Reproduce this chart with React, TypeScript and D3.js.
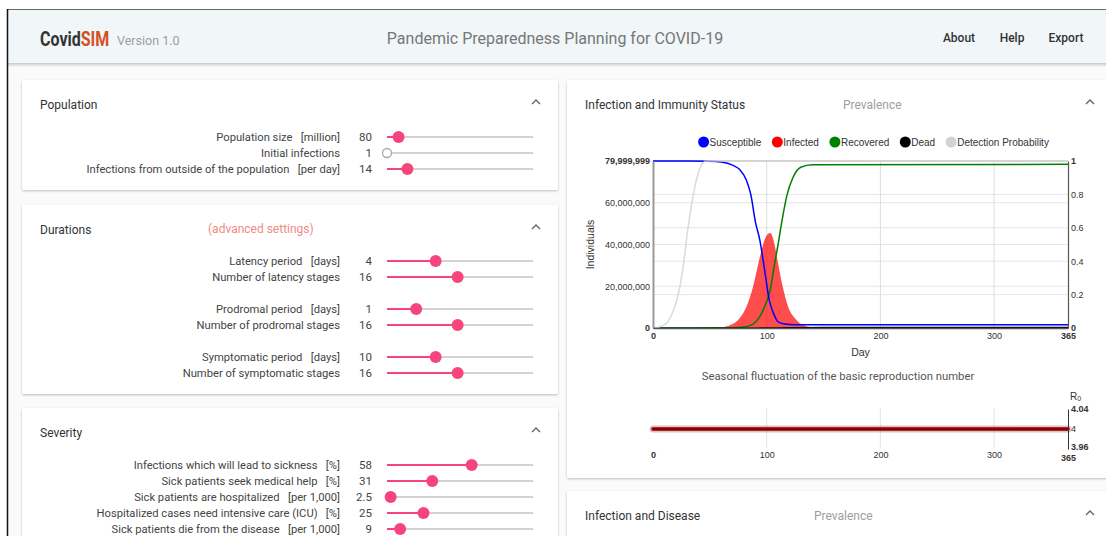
import React, { useEffect, useRef } from 'react';
import * as d3 from 'd3';

// Infection and Immunity Status (prevalence, millions of individuals)
const susceptibleDays = [0, 30, 50, 60, 70, 76, 82, 86, 90, 94, 97, 100, 102, 104, 106, 110, 115, 120, 130, 365];
const susceptibleMio = [80, 80, 79.9, 79.5, 78, 76, 71, 64, 51, 42, 32, 21, 14, 10, 7, 3, 2.0, 1.7, 1.6, 1.6];

const infectedDays = [0, 50, 60, 68, 76, 82, 88, 94, 98, 101, 103, 105, 108, 110, 114, 119, 125, 132, 141, 155, 170, 365];
const infectedMio = [0, 0.05, 0.3, 1.4, 4.6, 10, 19.8, 34, 42, 45, 45.5, 44, 37, 31, 20, 10, 4.6, 1.4, 0.3, 0.05, 0, 0];

const recoveredDays = [0, 70, 80, 88, 94, 98, 103, 107, 110, 113, 118, 123, 130, 140, 365];
const recoveredMio = [0, 0.1, 0.5, 1.9, 5.4, 10, 18, 31, 40, 50, 64, 72, 77, 78.2, 78.4];

const deadDays = [0, 90, 110, 130, 150, 365];
const deadMio = [0, 0, 0.1, 0.25, 0.3, 0.31];

// detection probability on the right axis (0..1)
const detectionDays = [0, 5, 12, 17, 21, 24, 27, 30, 33, 37, 41, 44, 47, 365];
const detectionProb = [0, 0.005, 0.03, 0.09, 0.17, 0.26, 0.39, 0.56, 0.7, 0.85, 0.95, 0.99, 1, 1];

// seasonal fluctuation of R0
const r0Days = [0, 91, 182, 273, 365];
const r0Values = [4, 4, 4, 4, 4];

const leftTicks = [0, 20000000, 40000000, 60000000, 79999999];
const rightTicks = [0, 0.2, 0.4, 0.6, 0.8, 1];
const dayTicks = [0, 100, 200, 300, 365];
const r0Ticks = [3.96, 4, 4.04];

const legendNames = ['Susceptible', 'Infected', 'Recovered', 'Dead', 'Detection Probability'];
const legendColors = ['#0000ff', '#ff0000', '#008000', '#000000', '#d3d3d3'];

// sliders
const populationLabels = ['Population size', 'Initial infections', 'Infections from outside of the population'];
const populationUnits = ['[million]', '', '[per day]'];
const populationValues = [80, 1, 14];
const populationMin = [1, 1, 0];
const populationMax = [1000, 100, 100];

const durationLabels = ['Latency period', 'Number of latency stages', 'Prodromal period', 'Number of prodromal stages', 'Symptomatic period', 'Number of symptomatic stages'];
const durationUnits = ['[days]', '', '[days]', '', '[days]', ''];
const durationValues = [4, 16, 1, 16, 10, 16];
const durationMin = [1, 1, 0, 1, 1, 1];
const durationMax = [10, 32, 5, 32, 28, 32];

const severityLabels = ['Infections which will lead to sickness', 'Sick patients seek medical help', 'Sick patients are hospitalized', 'Hospitalized cases need intensive care (ICU)', 'Sick patients die from the disease'];
const severityUnits = ['[%]', '[%]', '[per 1,000]', '[%]', '[per 1,000]'];
const severityValues = [58, 31, 2.5, 25, 9];
const severityMin = [0, 0, 0, 0, 0];
const severityMax = [100, 100, 100, 100, 100];

const UI_FONT = 'Roboto, "Noto Sans", sans-serif';
const CHART_FONT = '"Liberation Sans", Arial, sans-serif';
const PINK = '#f5457c';
const TRACK_X0 = 387;
const TRACK_X1 = 533;

function SliderRow({ y, label, unit, value, min, max }: any) {
  const scale = d3.scaleLinear().domain([min, max]).range([TRACK_X0, TRACK_X1]);
  const cx = scale(value);
  const atMin = value <= min;
  return (
    <g fontFamily={UI_FONT} fill="#444">
      <text x={340} y={y + 4} textAnchor="end" fontSize={11.2}>
        {unit ? label + '\u00a0\u00a0\u00a0' + unit : label}
      </text>
      <text x={372} y={y + 4} textAnchor="end" fontSize={11.5}>{value}</text>
      <line x1={TRACK_X0} x2={TRACK_X1} y1={y} y2={y} stroke="#c4c4c4" strokeWidth={1.5} />
      {!atMin && <line x1={TRACK_X0} x2={cx} y1={y} y2={y} stroke={PINK} strokeWidth={2} />}
      {atMin
        ? <circle cx={cx} cy={y} r={4.5} fill="#fff" stroke="#aaa" strokeWidth={1.3} />
        : <circle cx={cx} cy={y} r={6} fill={PINK} />}
    </g>
  );
}

function Card({ x, y, w, h, title, caretX }: any) {
  return (
    <g>
      <rect x={x} y={y} width={w} height={h} rx={2} fill="#fff" filter="url(#cardShadow)" />
      <text x={x + 18} y={y + 28.5} fontFamily={UI_FONT} fontSize={12} fill="#333">{title}</text>
      <path d={`M${caretX - 4},${y + 24} L${caretX},${y + 20} L${caretX + 4},${y + 24}`}
        fill="none" stroke="#666" strokeWidth={1.4} />
    </g>
  );
}

function pairs(days: number[], vals: number[], k: number) {
  return days.map((d, i) => [d, vals[i] * k] as [number, number]);
}

export default function App() {
  const chartRef = useRef<SVGGElement>(null);

  useEffect(() => {
    const g = d3.select(chartRef.current);
    g.selectAll('*').remove();

    var left = 653, right = 1068, top = 161, bottom = 328;
    var x = d3.scaleLinear().domain([0, 365]).range([left, right]);
    var yLeft = d3.scaleLinear().domain([0, 79999999]).range([bottom, top]);
    var yRight = d3.scaleLinear().domain([0, 1]).range([bottom, top]);

    // grid
    var grid = g.append('g').attr('stroke', '#e6e6e6').attr('stroke-width', 1);
    grid.selectAll('.gl').data(leftTicks.slice(1, -1)).join('line')
      .attr('x1', left).attr('x2', right)
      .attr('y1', d => yLeft(d)).attr('y2', d => yLeft(d));
    grid.selectAll('.gr').data(rightTicks.slice(1, -1)).join('line')
      .attr('x1', left).attr('x2', right)
      .attr('y1', d => yRight(d)).attr('y2', d => yRight(d));
    grid.selectAll('.gv').data(dayTicks.slice(1, -1)).join('line')
      .attr('x1', d => x(d)).attr('x2', d => x(d))
      .attr('y1', top).attr('y2', bottom).attr('stroke', '#dedede');

    // top border
    g.append('line').attr('x1', left).attr('x2', right).attr('y1', top).attr('y2', top)
      .attr('stroke', '#d6d6d6').attr('stroke-width', 2);

    var line = d3.line<[number, number]>().x(d => x(d[0])).curve(d3.curveMonotoneX);
    var area = d3.area<[number, number]>()
      .x(d => x(d[0])).y0(yLeft(0)).y1(d => yLeft(d[1])).curve(d3.curveMonotoneX);

    g.append('path').datum(pairs(infectedDays, infectedMio, 1e6))
      .attr('d', area).attr('fill', '#ff0000').attr('fill-opacity', 0.7);
    g.append('path').datum(pairs(recoveredDays, recoveredMio, 1e6))
      .attr('d', line.y(d => yLeft(d[1]))).attr('fill', 'none').attr('stroke', '#008000').attr('stroke-width', 1.5);
    g.append('path').datum(pairs(deadDays, deadMio, 1e6))
      .attr('d', line.y(d => yLeft(d[1]))).attr('fill', 'none').attr('stroke', '#000').attr('stroke-width', 1.2);
    g.append('path').datum(pairs(susceptibleDays, susceptibleMio, 1e6).map(d => [d[0], Math.min(d[1], 79999999)] as [number, number]))
      .attr('d', line.y(d => yLeft(d[1]))).attr('fill', 'none').attr('stroke', '#0000ff').attr('stroke-width', 1.5);
    g.append('path').datum(pairs(detectionDays, detectionProb, 1))
      .attr('d', line.y(d => yRight(d[1]))).attr('fill', 'none').attr('stroke', '#d3d3d3')
      .attr('stroke-width', 1.5).attr('stroke-opacity', 0.85);

    const styleAxis = (sel: any, boldFn: (d: number) => boolean) => {
      sel.attr('font-family', CHART_FONT).attr('font-size', 9);
      sel.selectAll('text').attr('fill', '#333').attr('font-weight', (d: number) => boldFn(d) ? 'bold' : 'normal');
    };

    // axes
    var axL = g.append('g').attr('transform', 'translate(' + left + ',0)')
      .call(d3.axisLeft(yLeft).tickValues(leftTicks).tickSize(0).tickPadding(3).tickFormat(d3.format(',')));
    axL.select('.domain').attr('stroke', '#999').attr('stroke-width', 2);
    styleAxis(axL, d => d === 0 || d === 79999999);

    var axR = g.append('g').attr('transform', 'translate(' + right + ',0)')
      .call(d3.axisRight(yRight).tickValues(rightTicks).tickSize(0).tickPadding(3).tickFormat(d3.format('')));
    axR.select('.domain').attr('stroke', '#555').attr('stroke-width', 1.2);
    styleAxis(axR, d => d === 0 || d === 1);

    var axB = g.append('g').attr('transform', 'translate(0,' + bottom + ')')
      .call(d3.axisBottom(x).tickValues(dayTicks).tickSize(0).tickPadding(5));
    axB.select('.domain').attr('stroke', '#555').attr('stroke-width', 1.5);
    styleAxis(axB, d => d === 0 || d === 365);

    g.append('text').attr('transform', 'translate(594,' + (top + bottom) / 2 + ') rotate(-90)')
      .attr('text-anchor', 'middle').attr('font-family', CHART_FONT).attr('font-size', 10.5)
      .attr('fill', '#333').text('Individuals');
    g.append('text').attr('x', (left + right) / 2).attr('y', 356).attr('text-anchor', 'middle')
      .attr('font-family', CHART_FONT).attr('font-size', 10.5).attr('fill', '#333').text('Day');

    // legend
    var legend = g.append('g').attr('font-family', CHART_FONT).attr('font-size', 10);
    var items = legend.selectAll('g').data(legendNames).join('g');
    items.append('circle').attr('r', 5.5).attr('cy', 0).attr('fill', (d, i) => legendColors[i]);
    items.append('text').attr('x', 6).attr('y', 3.5).attr('fill', '#333').text(d => d);
    var widths: number[] = [];
    items.each(function () {
      widths.push(((this as SVGGElement).querySelector('text') as SVGTextElement).getComputedTextLength() + 11.5);
    });
    var gap = 10.5;
    var total = d3.sum(widths) + gap * (widths.length - 1);
    var cursor = 873.5 - total / 2 + 5.5;
    items.attr('transform', (d, i) => {
      var tx = cursor;
      cursor += widths[i] + gap;
      return 'translate(' + tx + ',142)';
    });

    // seasonal R0
    var r0Top = 409, r0Bottom = 449;
    var yR0 = d3.scaleLinear().domain([3.96, 4.04]).range([r0Bottom, r0Top]);
    g.append('text').attr('x', 838).attr('y', 380).attr('text-anchor', 'middle')
      .attr('font-family', UI_FONT).attr('font-size', 11.3).attr('fill', '#555')
      .text('Seasonal fluctuation of the basic reproduction number');
    g.append('g').selectAll('line').data(dayTicks.slice(1, -1)).join('line')
      .attr('x1', d => x(d)).attr('x2', d => x(d)).attr('y1', r0Top - 1).attr('y2', r0Bottom - 1)
      .attr('stroke', '#e4e4e4');
    var r0Line = d3.line<[number, number]>().x(d => x(d[0])).y(d => yR0(d[1]));
    g.append('path').datum(pairs(r0Days, r0Values, 1)).attr('d', r0Line)
      .attr('fill', 'none').attr('stroke', '#8b0000').attr('stroke-opacity', 0.25)
      .attr('stroke-width', 7).attr('stroke-linecap', 'round');
    g.append('path').datum(pairs(r0Days, r0Values, 1)).attr('d', r0Line)
      .attr('fill', 'none').attr('stroke', '#8b0000').attr('stroke-width', 3.5).attr('stroke-linecap', 'round');
    var axR0 = g.append('g').attr('transform', 'translate(' + right + ',0)')
      .call(d3.axisRight(yR0).tickValues(r0Ticks).tickSize(0).tickPadding(3).tickFormat(d3.format('')));
    axR0.select('.domain').attr('stroke', '#333').attr('stroke-width', 1);
    styleAxis(axR0, d => d !== 4);
    axR0.selectAll('text').filter((d: any) => d === 3.96).attr('dy', '0.1em');
    var r0Label = g.append('text').attr('x', right + 2).attr('y', 400)
      .attr('font-family', CHART_FONT).attr('font-size', 10).attr('fill', '#333');
    r0Label.append('tspan').text('R');
    r0Label.append('tspan').attr('font-size', 7).attr('dy', 1).text('0');
    var axB0 = g.append('g').attr('transform', 'translate(0,' + (r0Bottom - 1) + ')')
      .call(d3.axisBottom(x).tickValues(dayTicks).tickSize(0).tickPadding(4));
    axB0.select('.domain').remove();
    styleAxis(axB0, d => d === 0 || d === 365);
    axB0.selectAll('text').filter((d: any) => d === 365).attr('dy', '1em');
  }, []);

  const rowsPopulation = populationLabels.map((l, i) => (
    <SliderRow key={l} y={137 + i * 16} label={l} unit={populationUnits[i]}
      value={populationValues[i]} min={populationMin[i]} max={populationMax[i]} />
  ));
  const rowsDuration = durationLabels.map((l, i) => (
    <SliderRow key={l} y={261 + i * 16 + Math.floor(i / 2) * 16} label={l} unit={durationUnits[i]}
      value={durationValues[i]} min={durationMin[i]} max={durationMax[i]} />
  ));
  const rowsSeverity = severityLabels.map((l, i) => (
    <SliderRow key={l} y={465 + i * 16} label={l} unit={severityUnits[i]}
      value={severityValues[i]} min={severityMin[i]} max={severityMax[i]} />
  ));

  return (
    <svg width={1106} height={536} style={{ position: 'absolute', left: 0, top: 0 }}>
      <defs>
        <filter id="cardShadow" x="-5%" y="-10%" width="110%" height="125%">
          <feDropShadow dx="0" dy="1" stdDeviation="1.3" floodColor="#000" floodOpacity="0.25" />
        </filter>
        <linearGradient id="headShadow" x1="0" x2="0" y1="0" y2="1">
          <stop offset="0" stopColor="#c8c8c8" />
          <stop offset="1" stopColor="#fafafa" />
        </linearGradient>
      </defs>
      <rect x={0} y={0} width={1106} height={536} fill="#fff" />
      <rect x={8} y={10} width={1098} height={526} fill="#fafafa" />

      {/* header */}
      <rect x={8} y={10} width={1098} height={53} fill="#f1f6f9" />
      <rect x={8} y={63} width={1098} height={4} fill="url(#headShadow)" />
      <text transform="translate(40,46) scale(0.8,1)" fontFamily={UI_FONT} fontWeight="bold" fontSize={20}>
        <tspan fill="#333">Covid</tspan><tspan fill="#d5501f">SIM</tspan>
      </text>
      <text x={117} y={45} fontFamily={UI_FONT} fontSize={12.5} fill="#9e9e9e">Version 1.0</text>
      <text x={555} y={44} textAnchor="middle" fontFamily={UI_FONT} fontSize={16} fill="#777">
        Pandemic Preparedness Planning for COVID-19
      </text>
      <g fontFamily={UI_FONT} fontSize={12} fontWeight={500} fill="#333" textAnchor="middle">
        <text x={959} y={42}>About</text>
        <text x={1012} y={42}>Help</text>
        <text x={1066} y={42}>Export</text>
      </g>
      <line x1={8} x2={1106} y1={9.5} y2={9.5} stroke="#666" strokeWidth={1.2} />
      <line x1={7.5} x2={7.5} y1={9} y2={536} stroke="#111" strokeWidth={1.5} />

      {/* parameter cards */}
      <Card x={22} y={80} w={536} h={110} title="Population" caretX={536} />
      {rowsPopulation}
      <Card x={22} y={205} w={536} h={189} title="Durations" caretX={536} />
      <text x={208} y={233} fontFamily={UI_FONT} fontSize={12} fill="#f28a84">(advanced settings)</text>
      {rowsDuration}
      <Card x={22} y={408} w={536} h={160} title="Severity" caretX={536} />
      {rowsSeverity}

      {/* output cards */}
      <Card x={567} y={80} w={560} h={398} title="Infection and Immunity Status" caretX={1090} />
      <text x={843} y={108.5} fontFamily={UI_FONT} fontSize={12} fill="#9e9e9e">Prevalence</text>
      <Card x={567} y={491} w={560} h={80} title="Infection and Disease" caretX={1090} />
      <text x={814} y={519.5} fontFamily={UI_FONT} fontSize={12} fill="#9e9e9e">Prevalence</text>
      <g ref={chartRef} />
    </svg>
  );
}
